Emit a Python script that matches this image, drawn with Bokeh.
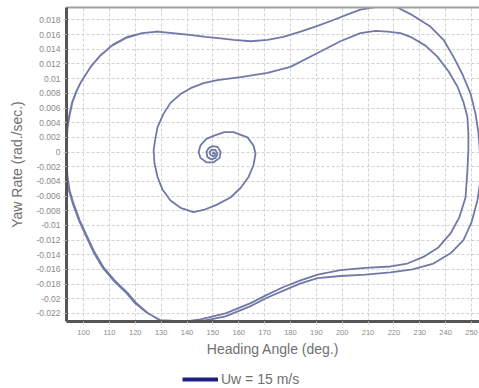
from bokeh.plotting import figure
from bokeh.layouts import column
from bokeh.models import FixedTicker, LinearAxis, Legend, LegendItem, Range1d
from bokeh.embed import file_html
from bokeh.resources import INLINE

# ---- data ----
heading = [
    149.9, 150.3, 151.0, 150.3, 149.1, 148.7, 149.5, 151.0, 151.8, 151.0,
    149.5, 147.9, 147.5, 148.3, 149.9, 151.8, 153.0, 152.6, 150.3, 147.5,
    145.2, 144.5, 145.2, 147.5, 151.0, 154.5, 158.0, 163.4, 165.7, 166.5,
    165.7, 163.8, 160.7, 156.8, 151.4, 146.4, 142.5, 137.5, 133.6, 130.5,
    128.6, 127.4, 127.1, 127.8, 128.6, 130.9, 133.6, 137.5, 141.4, 146.4,
    151.8, 160.7, 171.1, 180.0, 190.5, 199.3, 207.1, 212.9, 217.5, 222.5,
    226.4, 232.2, 236.8, 241.1, 244.6, 246.9, 248.4, 248.8, 248.8, 248.4,
    247.7, 245.3, 241.9, 237.2, 231.4, 225.2, 218.7, 209.0, 199.3, 190.5,
    183.9, 177.3, 170.7, 164.6, 154.9, 145.2, 139.4, 133.6, 129.8, 124.7,
    120.1, 117.0, 112.0, 107.7, 104.3, 101.5, 98.5, 96.1, 94.6, 93.8,
    93.4, 93.4, 93.8, 94.6, 95.7, 97.3, 98.8, 102.7, 106.6, 111.2,
    117.0, 122.8, 128.6, 134.4, 140.2, 147.2, 153.0, 158.0, 164.6, 171.1,
    177.3, 183.9, 190.5, 196.6, 202.4, 207.1, 211.7, 216.7, 221.4, 226.4,
    234.1, 239.2, 243.0, 246.5, 249.6, 251.5, 252.7, 253.5, 253.5, 252.3,
    250.0, 246.9, 241.9, 235.3, 227.2, 218.7, 209.0, 199.3, 190.5, 183.9,
    177.3, 170.7, 164.6, 154.9, 145.2, 139.4, 133.6, 129.6, 124.5, 119.9,
    116.8, 111.8, 107.5, 104.1, 101.3, 98.3, 95.9, 94.4, 93.6, 93.3,
    93.3, 93.6, 94.4, 95.5, 97.1, 98.6, 102.5, 106.4, 111.0, 116.8,
    122.6, 128.4, 134.2, 140.0,
]
yaw_rate = [
    -0.0003, 0.0000, -0.0003, -0.0006, -0.0004, 0.0000, 0.0003, 0.0003, -0.0003, -0.0008,
    -0.0010, -0.0007, 0.0000, 0.0005, 0.0008, 0.0007, 0.0000, -0.0008, -0.0014, -0.0014,
    -0.0008, 0.0000, 0.0009, 0.0018, 0.0023, 0.0027, 0.0027, 0.0020, 0.0009, -0.0002,
    -0.0018, -0.0034, -0.0049, -0.0062, -0.0072, -0.0079, -0.0082, -0.0076, -0.0066, -0.0051,
    -0.0034, -0.0015, 0.0003, 0.0019, 0.0034, 0.0052, 0.0067, 0.0079, 0.0087, 0.0094,
    0.0098, 0.0102, 0.0108, 0.0116, 0.0135, 0.0151, 0.0162, 0.0165, 0.0164, 0.0162,
    0.0157, 0.0145, 0.0130, 0.0110, 0.0089, 0.0068, 0.0048, 0.0026, 0.0003, -0.0027,
    -0.0062, -0.0089, -0.0111, -0.0130, -0.0143, -0.0152, -0.0156, -0.0158, -0.0161, -0.0167,
    -0.0175, -0.0184, -0.0195, -0.0206, -0.0220, -0.0228, -0.0231, -0.0231, -0.0230, -0.0219,
    -0.0205, -0.0192, -0.0175, -0.0157, -0.0137, -0.0116, -0.0093, -0.0070, -0.0052, -0.0034,
    -0.0011, 0.0009, 0.0033, 0.0050, 0.0068, 0.0083, 0.0094, 0.0116, 0.0132, 0.0146,
    0.0157, 0.0162, 0.0164, 0.0162, 0.0160, 0.0157, 0.0155, 0.0153, 0.0151, 0.0153,
    0.0157, 0.0164, 0.0172, 0.0180, 0.0188, 0.0194, 0.0197, 0.0200, 0.0197, 0.0188,
    0.0171, 0.0153, 0.0130, 0.0106, 0.0080, 0.0053, 0.0026, -0.0011, -0.0038, -0.0066,
    -0.0096, -0.0120, -0.0138, -0.0152, -0.0160, -0.0164, -0.0167, -0.0169, -0.0172, -0.0179,
    -0.0189, -0.0199, -0.0210, -0.0224, -0.0231, -0.0232, -0.0230, -0.0229, -0.0219, -0.0206,
    -0.0193, -0.0176, -0.0158, -0.0138, -0.0117, -0.0094, -0.0071, -0.0053, -0.0035, -0.0012,
    0.0008, 0.0032, 0.0049, 0.0067, 0.0082, 0.0093, 0.0115, 0.0131, 0.0145, 0.0156,
    0.0162, 0.0164, 0.0162, 0.0160,
]

x_ticks = [100, 110, 120, 130, 140, 150, 160, 170, 180, 190, 200, 210, 220, 230, 240, 250]
y_ticks = [-0.022, -0.020, -0.018, -0.016, -0.014, -0.012, -0.010, -0.008, -0.006, -0.004,
           -0.002, 0.0, 0.002, 0.004, 0.006, 0.008, 0.010, 0.012, 0.014, 0.016, 0.018]
y_tick_labels = ["-0.022", "-0.02", "-0.018", "-0.016", "-0.014", "-0.012", "-0.01", "-0.008",
                 "-0.006", "-0.004", "-0.002", "0", "0.002", "0.004", "0.006", "0.008", "0.01",
                 "0.012", "0.014", "0.016", "0.018"]
series_label = "Uw = 15 m/s"

FONT = "Liberation Sans"

p = figure(width=479, height=362, output_backend="svg", toolbar_location=None,
           x_range=Range1d(93.4, 253.1), y_range=Range1d(-0.0231, 0.0197),
           min_border_left=66, min_border_right=0, min_border_top=7, min_border_bottom=41)
p.outline_line_color = None
p.background_fill_color = "white"

p.line(heading, yaw_rate, line_color="#6a72a2", line_width=1.8, line_alpha=0.95)

for ax in (p.xaxis[0], p.yaxis[0]):
    ax.axis_line_color = "#555555"
    ax.axis_line_width = 3
    ax.major_tick_line_color = "#c0c0c0"
    ax.major_tick_out = 3
    ax.major_tick_in = 0
    ax.minor_tick_line_color = None
    ax.major_label_text_font = FONT
    ax.major_label_text_color = "#8a8a8a"
    ax.axis_label_text_font = FONT
    ax.axis_label_text_font_size = "14px"
    ax.axis_label_text_font_style = "normal"
    ax.axis_label_text_color = "#707070"

p.xaxis.major_label_text_font_size = "7.5px"
p.yaxis.major_label_text_font_size = "8.5px"
p.xaxis.ticker = FixedTicker(ticks=x_ticks)
p.yaxis.ticker = FixedTicker(ticks=y_ticks)
p.yaxis.major_label_overrides = {t: s for t, s in zip(y_ticks, y_tick_labels)}
p.xaxis.axis_label = "Heading Angle (deg.)"
p.yaxis.axis_label = "Yaw Rate (rad./sec.)"
p.xaxis.major_label_standoff = 5
p.yaxis.major_label_standoff = 3
p.xaxis.axis_label_standoff = 3
p.yaxis.axis_label_standoff = 8

top_ax = LinearAxis(ticker=FixedTicker(ticks=[]), axis_line_color="#a0a0a0", axis_line_width=2,
                    major_tick_line_color=None, minor_tick_line_color=None,
                    major_label_text_font_size="0px")
p.add_layout(top_ax, "above")

p.xgrid.ticker = FixedTicker(ticks=x_ticks)
p.ygrid.ticker = FixedTicker(ticks=y_ticks)
for g in (p.xgrid[0], p.ygrid[0]):
    g.grid_line_color = "#d2d2d2"
    g.grid_line_dash = "3 2"
    g.grid_line_width = 1

# legend strip below the chart (its line renderer carries the series but lies outside this strip's view)
p2 = figure(width=479, height=26, output_backend="svg", toolbar_location=None,
            x_range=Range1d(0, 1), y_range=Range1d(0, 1),
            x_axis_type=None, y_axis_type=None,
            min_border_left=66, min_border_right=0, min_border_top=0, min_border_bottom=0)
p2.outline_line_color = None
leg_r = p2.line(heading, yaw_rate, line_color="#1f2080", line_width=4)
legend = Legend(items=[LegendItem(label=series_label, renderers=[leg_r])],
                location=(116, 1), orientation="horizontal",
                glyph_width=36, glyph_height=12, label_standoff=3,
                label_text_font=FONT, label_text_font_size="14px", label_text_color="#707070",
                padding=0, margin=0, border_line_color=None, background_fill_alpha=0)
p2.add_layout(legend)

layout = column(p, p2, spacing=0)
open("out.html", "w").write(file_html(layout, INLINE))
